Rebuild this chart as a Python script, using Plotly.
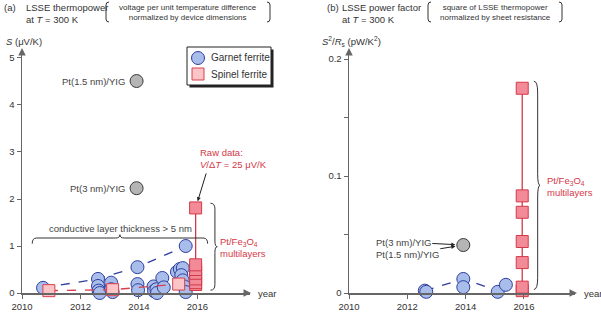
import plotly.graph_objects as go

# ---------------- data ----------------
# Panel (a): LSSE thermopower S (uV/K) vs year
garnet_a_year = [2010.72, 2012.6, 2012.6, 2012.62, 2012.66, 2013.05, 2013.05, 2013.1,
                 2013.95, 2013.95, 2013.97, 2014.5, 2014.52, 2014.6, 2014.62, 2014.8,
                 2014.85, 2015.3, 2015.4, 2015.5, 2015.45, 2015.5, 2015.55, 2015.6, 2015.6]
garnet_a_S = [0.11, 0.30, 0.15, 0.05, 0.0, 0.22, 0.08, 0.02,
              0.55, 0.19, 0.06, 0.14, 0.04, 0.08, 0.0, 0.32,
              0.12, 0.45, 0.51, 0.53, 0.38, 0.27, 0.14, 0.02, 1.0]
garnet_a_trend_year = [2010.72, 2012.6, 2013.95, 2015.6]
garnet_a_trend_S = [0.11, 0.30, 0.55, 1.0]

spinel_a_year = [2010.92, 2013.1, 2015.36]
spinel_a_S = [0.05, 0.07, 0.19]

multi_a_year = [2015.94] * 7
multi_a_S = [0.18, 0.22, 0.30, 0.42, 0.50, 0.60, 1.81]

yig_a_year = [2013.92, 2013.92]
yig_a_S = [4.51, 2.23]
yig_labels = ["Pt(1.5 nm)/YIG", "Pt(3 nm)/YIG"]

# Panel (b): power factor S^2/Rs (pW/K^2) vs year
garnet_b_year = [2012.6, 2012.65, 2013.92, 2013.92, 2015.1, 2015.38]
garnet_b_PF = [0.002, 0.001, 0.012, 0.005, 0.001, 0.007]
garnet_b_trend_year = [2012.6, 2013.92, 2015.1]
garnet_b_trend_PF = [0.002, 0.012, 0.002]

multi_b_year = [2015.94] * 7
multi_b_PF = [0.002, 0.005, 0.026, 0.044, 0.069, 0.083, 0.175]

yig_b_year = [2013.92]
yig_b_PF = [0.041]

year_ticks = [2010, 2012, 2014, 2016]
a_ticks = [0, 1, 2, 3, 4, 5]
b_ticks = [0, 0.1, 0.2]
legend_names = ["Garnet ferrite", "Spinel ferrite"]

# ---------------- styles ----------------
W, H = 601, 312
TOP, BOT = 50, 293
FONT = "Liberation Sans, Arial, sans-serif"
BLUE_F, BLUE_L = "#a8bdea", "#2f3f9f"
SPI_F, SPI_L = "#fbc4c6", "#d8404e"
MUL_F, MUL_L = "#f28a98", "#d43848"
GRAY_F, GRAY_L = "#b5b5b5", "#3a3a3a"
RED_T = "#d43848"
AX = "#666666"
TXT = "#333333"


def px(x):
    return x / W


def py(y):
    return (BOT - y) / (BOT - TOP)


fig = go.Figure()


def line_trace(x, y, color, dash, xa, ya):
    fig.add_trace(go.Scatter(x=x, y=y, mode="lines", line=dict(color=color, width=1.3, dash=dash),
                             showlegend=False, xaxis=xa, yaxis=ya, hoverinfo="skip"))


def marker_trace(x, y, symbol, size, fill, edge, xa, ya):
    fig.add_trace(go.Scatter(x=x, y=y, mode="markers",
                             marker=dict(symbol=symbol, size=size, color=fill,
                                         line=dict(color=edge, width=1)),
                             showlegend=False, cliponaxis=False, xaxis=xa, yaxis=ya))


# ---- panel (a) ----
line_trace(garnet_a_trend_year, garnet_a_trend_S, BLUE_L, "dash", "x", "y")
marker_trace(garnet_a_year, garnet_a_S, "circle", 13, BLUE_F, BLUE_L, "x", "y")
marker_trace(yig_a_year, yig_a_S, "circle", 13, GRAY_F, GRAY_L, "x", "y")
line_trace(spinel_a_year, spinel_a_S, SPI_L, "dash", "x", "y")
marker_trace(spinel_a_year, spinel_a_S, "square", 12, SPI_F, SPI_L, "x", "y")
line_trace(multi_a_year, multi_a_S, MUL_L, "solid", "x", "y")
marker_trace(multi_a_year, multi_a_S, "square", 12, MUL_F, MUL_L, "x", "y")

# ---- panel (b) ----
line_trace(garnet_b_trend_year, garnet_b_trend_PF, BLUE_L, "dash", "x2", "y2")
marker_trace(garnet_b_year, garnet_b_PF, "circle", 13, BLUE_F, BLUE_L, "x2", "y2")
marker_trace(yig_b_year, yig_b_PF, "circle", 13, GRAY_F, GRAY_L, "x2", "y2")
line_trace(multi_b_year, multi_b_PF, MUL_L, "solid", "x2", "y2")
marker_trace(multi_b_year, multi_b_PF, "square", 12, MUL_F, MUL_L, "x2", "y2")

axis_common = dict(showline=True, linecolor=AX, linewidth=1.5, ticks="outside", ticklen=4,
                   tickcolor=AX, tickwidth=1, showgrid=False, zeroline=False,
                   tickfont=dict(size=9.5, color=TXT, family=FONT), fixedrange=True)

fig.update_layout(
    width=W, height=H,
    margin=dict(l=0, r=0, t=TOP, b=H - BOT, autoexpand=False),
    paper_bgcolor="white", plot_bgcolor="white",
    font=dict(family=FONT, size=10, color=TXT),
    showlegend=False,
    xaxis=dict(domain=[px(22), px(250)], range=[2010, 2017.8], tickvals=year_ticks,
               anchor="y", **axis_common),
    yaxis=dict(domain=[0, 1], range=[0, 5.17], tickvals=a_ticks, anchor="x", **axis_common),
    xaxis2=dict(domain=[px(349), px(575)], range=[2010, 2017.75], tickvals=year_ticks,
                anchor="y2", **axis_common),
    yaxis2=dict(domain=[0, 1], range=[0, 0.2077], tickvals=b_ticks, anchor="x2",
                minor=dict(dtick=0.05, ticks="outside", ticklen=4, tickcolor=AX),
                **axis_common),
    hovermode=False,
)

ann = []


def text(x, y, s, size=9.5, color=TXT, anchor="left", xref="paper", yref="paper", **kw):
    ann.append(dict(x=x, y=y, xref=xref, yref=yref, text=s, showarrow=False,
                    xanchor=anchor, yanchor="middle",
                    font=dict(size=size, color=color, family=FONT), **kw))


# headers
text(px(2), py(7), "(a)", size=9.5)
text(px(24), py(7), "LSSE thermopower", size=9.5)
text(px(24), py(19), "at <i>T</i> = 300 K", size=9.5)
text(px(188), py(12), "voltage per unit temperature difference<br>normalized by device dimensions",
     size=8, anchor="center", align="center")
text(px(325), py(7), "(b)", size=9.5)
text(px(340), py(7), "LSSE power factor", size=9.5)
text(px(340), py(19), "at <i>T</i> = 300 K", size=9.5)
text(px(495), py(12), "square of LSSE thermopower<br>normalized by sheet resistance",
     size=8, anchor="center", align="center")

# axis titles
text(px(4), py(41), "<i>S</i> (μV/K)", size=9.5)
text(px(320), py(41), "<i>S</i><sup>2</sup>/<i>R</i><sub>s</sub> (pW/K<sup>2</sup>)", size=9.5)
text(px(256), py(293), "year", size=9.5)
text(px(582), py(293), "year", size=9.5)

# gray point labels (a)
for yy, ss, lab in zip(yig_a_year, yig_a_S, yig_labels):
    ann.append(dict(x=yy, y=ss, xref="x", yref="y", text=lab, showarrow=False,
                    xanchor="right", yanchor="middle", xshift=-10,
                    font=dict(size=9.5, color="#444444", family=FONT)))

# gray point labels with arrows (b)
ann.append(dict(x=yig_b_year[0], y=yig_b_PF[0], xref="x2", yref="y2", text=yig_labels[1],
                showarrow=True, ax=-60, ay=-3, standoff=8, arrowhead=2, arrowsize=0.8,
                arrowwidth=1, arrowcolor="#222222",
                font=dict(size=9.5, color="#444444", family=FONT)))
ann.append(dict(x=yig_b_year[0], y=yig_b_PF[0], xref="x2", yref="y2", text=yig_labels[0],
                showarrow=True, ax=-56, ay=9, standoff=8, arrowhead=2, arrowsize=0.8,
                arrowwidth=1, arrowcolor="#222222",
                font=dict(size=9.5, color="#444444", family=FONT)))

# raw data note
text(px(198), py(158.5), "Raw data:<br><i>V</i>/Δ<i>T</i> = 25 μV/K", size=9.5, color=RED_T,
     align="left")
ann.append(dict(x=multi_a_year[-1], y=multi_a_S[-1], xref="x", yref="y", text="",
                showarrow=True, ax=11, ay=-36, standoff=7, arrowhead=2, arrowsize=0.8,
                arrowwidth=1, arrowcolor="#222222"))

# thickness note
text(px(120), py(228), "conductive layer thickness &gt; 5 nm", size=9.5, color="#444444",
     anchor="center")

# multilayer labels
text(px(218), py(247), "Pt/Fe<sub>3</sub>O<sub>4</sub><br>multilayers", size=9.5, color=RED_T,
     align="left")
text(px(545), py(186), "Pt/Fe<sub>3</sub>O<sub>4</sub><br>multilayers", size=9.5, color=RED_T,
     align="left")

# legend texts
text(px(209), py(58), legend_names[0], size=10)
text(px(209), py(74), legend_names[1], size=10)

# axis arrows
for xa, ya, axo, ayo in [(px(251), py(293), -8, 0), (px(22), py(48), 0, 8),
                         (px(577), py(293), -8, 0), (px(349), py(48), 0, 8)]:
    ann.append(dict(x=xa, y=ya, xref="paper", yref="paper", text="", showarrow=True,
                    ax=axo, ay=ayo, arrowhead=2, arrowsize=1, arrowwidth=1.5,
                    arrowcolor=AX))

fig.update_layout(annotations=ann)

# ---------------- shapes: brackets, braces, legend box ----------------
shapes = []


def paren(x, y0, y1, left=True, hook=3):
    d = hook if left else -hook
    p = (f"M {px(x + d)},{py(y0)} Q {px(x)},{py(y0)} {px(x)},{py(y0 + hook)} "
         f"L {px(x)},{py(y1 - hook)} Q {px(x)},{py(y1)} {px(x + d)},{py(y1)}")
    shapes.append(dict(type="path", path=p, xref="paper", yref="paper",
                       line=dict(color="#333333", width=1)))


paren(106, 2, 22, True)
paren(270, 2, 22, False)
paren(428, 2, 22, True)
paren(562, 2, 22, False)


def hbrace(x0, x1, y, dy_end, dy_mid, r, xref, yref):
    xm = (x0 + x1) / 2
    p = (f"M {x0},{y - dy_end} Q {x0},{y} {x0 + r},{y} L {xm - r},{y} "
         f"Q {xm},{y} {xm},{y + dy_mid} Q {xm},{y} {xm + r},{y} "
         f"L {x1 - r},{y} Q {x1},{y} {x1},{y - dy_end}")
    shapes.append(dict(type="path", path=p, xref=xref, yref=yref,
                       line=dict(color="#333333", width=1)))


def vbrace(x, y0, y1, dx_end, dx_mid, r, xref, yref):
    ym = (y0 + y1) / 2
    p = (f"M {x - dx_end},{y1} Q {x},{y1} {x},{y1 - r} L {x},{ym + r} "
         f"Q {x},{ym} {x + dx_mid},{ym} Q {x},{ym} {x},{ym - r} "
         f"L {x},{y0 + r} Q {x},{y0} {x - dx_end},{y0}")
    shapes.append(dict(type="path", path=p, xref=xref, yref=yref,
                       line=dict(color="#333333", width=1)))


hbrace(2010.35, 2016.35, 1.17, 0.12, 0.07, 0.15, "x", "y")
vbrace(2016.6, 0.06, 1.91, 0.15, 0.08, 0.12, "x", "y")
vbrace(2016.47, 0.003, 0.181, 0.13, 0.08, 0.01, "x2", "y2")

# legend box with drop shadow
shapes.append(dict(type="rect", xref="paper", yref="paper",
                   x0=px(189.5), x1=px(273.5), y0=py(87.5), y1=py(49.5),
                   line=dict(width=0), fillcolor="#222222"))
shapes.append(dict(type="rect", xref="paper", yref="paper",
                   x0=px(187), x1=px(271), y0=py(85), y1=py(47),
                   line=dict(width=1, color="#222222"), fillcolor="white"))
shapes.append(dict(type="circle", xref="paper", yref="paper",
                   x0=px(191.5), x1=px(204.5), y0=py(64.5), y1=py(51.5),
                   line=dict(width=1, color=BLUE_L), fillcolor=BLUE_F))
shapes.append(dict(type="rect", xref="paper", yref="paper",
                   x0=px(192), x1=px(204), y0=py(80), y1=py(68),
                   line=dict(width=1, color=SPI_L), fillcolor=SPI_F))

fig.update_layout(shapes=shapes)

fig.write_html("out.html", config={"displayModeBar": False, "staticPlot": True},
               post_script="document.body.style.margin='0px';")
